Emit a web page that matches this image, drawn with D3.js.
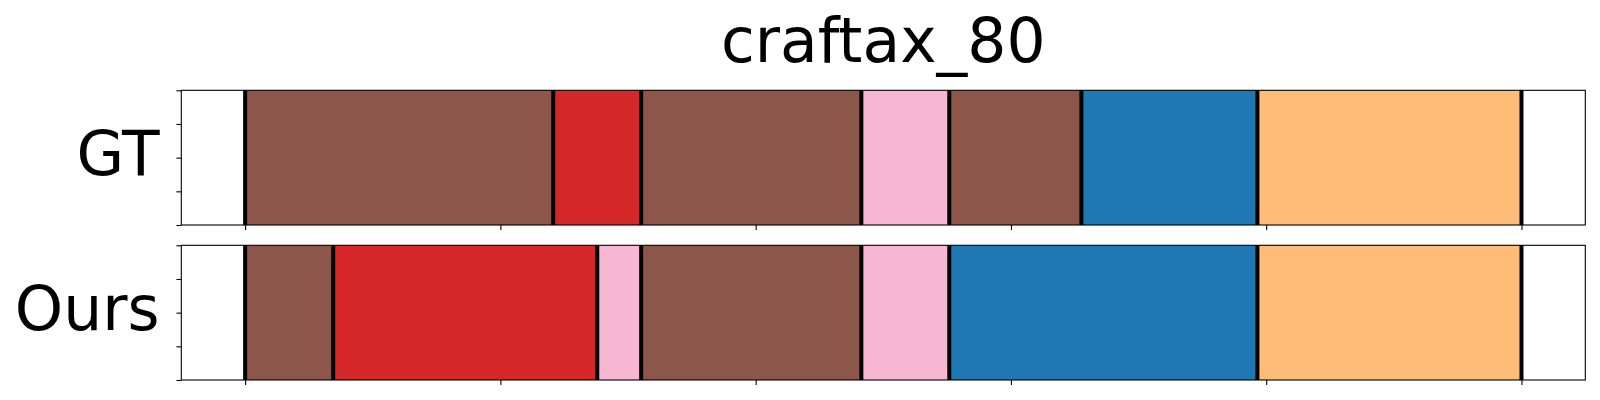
<!DOCTYPE html>
<html>
<head>
<meta charset="utf-8">
<script src="https://cdn.jsdelivr.net/npm/d3@7"></script>
<style>
  html, body { margin: 0; padding: 0; background: #fff; }
  svg { display: block; }
  text { font-family: "DejaVu Sans", sans-serif; fill: #000; }
</style>
</head>
<body>
<svg id="chart" width="1600" height="400"></svg>
<script>
// ---- data ----
const title = "craftax_80";
const rowNames = ["GT", "Ours"];
// segment boundaries (normalized time 0..1)
const gtBounds   = [0, 0.2414, 0.3103, 0.4828, 0.5517, 0.6552, 0.7931, 1.0];
const gtClasses  = ["brown", "red", "brown", "pink", "brown", "blue", "orange"];
const oursBounds = [0, 0.0690, 0.2759, 0.3103, 0.4828, 0.5517, 0.7931, 1.0];
const oursClasses = ["brown", "red", "pink", "brown", "pink", "blue", "orange"];
const classNames = ["brown", "red", "pink", "blue", "orange"];
const classColors = ["#8c564b", "#d62728", "#f7b6d2", "#1f77b4", "#ffbb78"];
const xTickValues = [0, 0.2, 0.4, 0.6, 0.8, 1.0];
const yTickValues = [0, 0.25, 0.5, 0.75, 1.0];

const rows = [
  { name: rowNames[0], bounds: gtBounds, classes: gtClasses },
  { name: rowNames[1], bounds: oursBounds, classes: oursClasses }
];

// ---- layout ----
const svg = d3.select("#chart");
const left = 181.3, right = 1585.3;
const panelTops = [90.3, 245.3];
const panelH = 134.7;

const x = d3.scaleLinear().domain([-0.05, 1.05]).range([left, right]);
const color = d3.scaleOrdinal().domain(classNames).range(classColors);

svg.append("text")
  .attr("x", (left + right) / 2)
  .attr("y", 61.7)
  .attr("text-anchor", "middle")
  .style("font-size", "61.5px")
  .text(title);

rows.forEach((row, i) => {
  const top = panelTops[i];
  const y = d3.scaleLinear().domain([0, 1]).range([top + panelH, top]);
  const g = svg.append("g");

  g.append("rect")
    .attr("x", left).attr("y", top)
    .attr("width", right - left).attr("height", panelH)
    .attr("fill", "#fff");

  const segs = row.classes.map((c, k) => ({ c, s: row.bounds[k], e: row.bounds[k + 1] }));
  g.selectAll("rect.seg").data(segs).enter().append("rect")
    .attr("class", "seg")
    .attr("x", d => x(d.s))
    .attr("width", d => x(d.e) - x(d.s))
    .attr("y", y(1))
    .attr("height", y(0) - y(1))
    .attr("fill", d => color(d.c));

  g.selectAll("line.bd").data(row.bounds).enter().append("line")
    .attr("class", "bd")
    .attr("x1", d => x(d)).attr("x2", d => x(d))
    .attr("y1", y(1)).attr("y2", y(0))
    .attr("stroke", "#000")
    .attr("stroke-width", 4);

  const xAxis = d3.axisBottom(x).tickValues(xTickValues).tickSize(4.9).tickFormat("");
  const gx = g.append("g").attr("transform", `translate(0,${top + panelH})`).call(xAxis);
  gx.select(".domain").remove();
  gx.selectAll("line").attr("stroke", "#000").attr("stroke-width", 1.1);

  const yAxis = d3.axisLeft(y).tickValues(yTickValues).tickSize(4.9).tickFormat("");
  const gy = g.append("g").attr("transform", `translate(${left},0)`).call(yAxis);
  gy.select(".domain").remove();
  gy.selectAll("line").attr("stroke", "#000").attr("stroke-width", 1.1);

  g.append("rect")
    .attr("x", left).attr("y", top)
    .attr("width", right - left).attr("height", panelH)
    .attr("fill", "none")
    .attr("stroke", "#000")
    .attr("stroke-width", 1.1);

  svg.append("text")
    .attr("x", 159.5)
    .attr("y", top + panelH / 2 + 17.3)
    .attr("text-anchor", "end")
    .style("font-size", "61.5px")
    .text(row.name);
});
</script>
</body>
</html>
